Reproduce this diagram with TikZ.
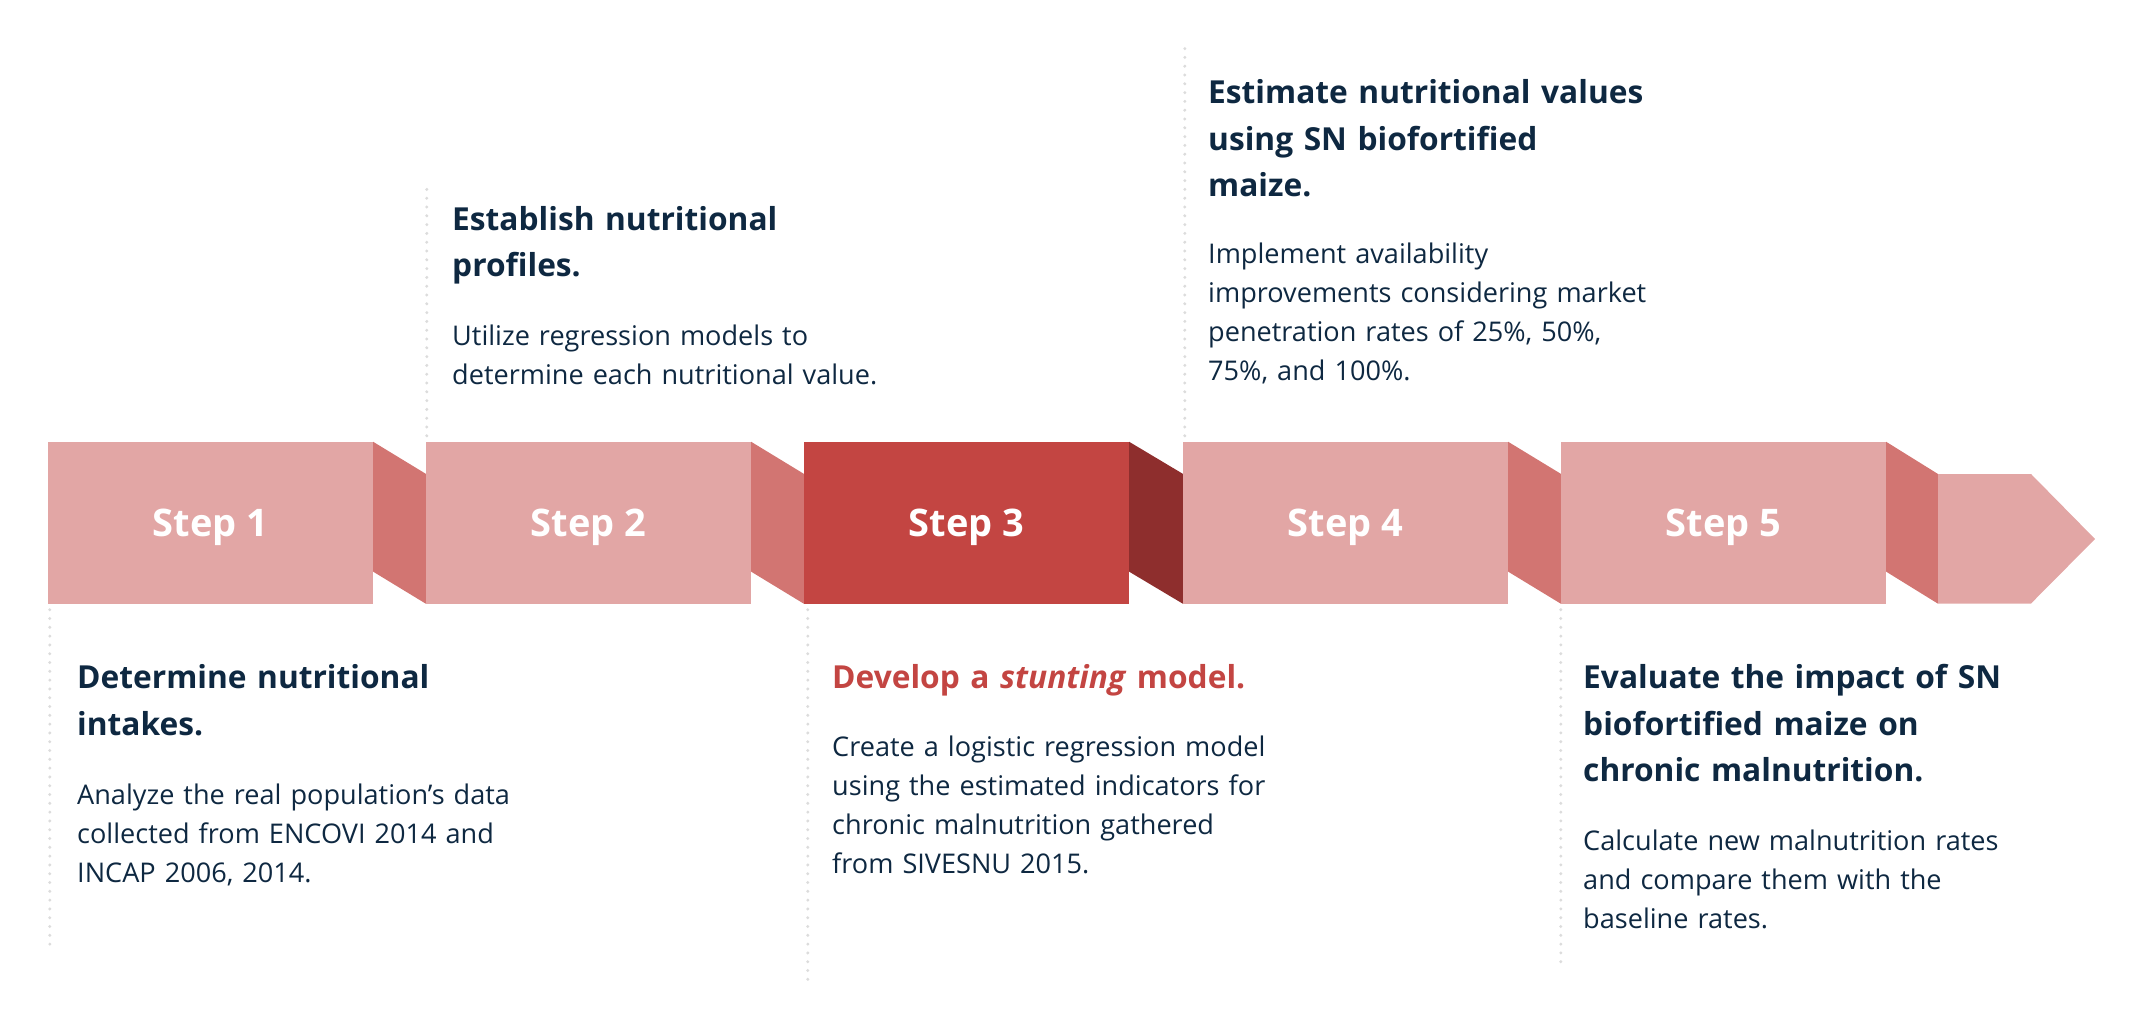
\documentclass[tikz,border=0pt]{standalone}
\usepackage{fontspec}
\setmainfont{Open Sans}
\definecolor{boxlight}{HTML}{E2A6A5}
\definecolor{foldlight}{HTML}{D27572}
\definecolor{boxred}{HTML}{C34542}
\definecolor{folddark}{HTML}{8E2E2D}
\definecolor{navy}{HTML}{0E2841}
\definecolor{guidegray}{HTML}{DCDCDC}

\begin{document}
\begin{tikzpicture}[x=1pt,y=-1pt,
    stepbox/.style={rectangle, minimum width=325pt, minimum height=161.5pt, inner sep=0pt,
      text height=27pt, text depth=0pt,
      fill=boxlight, text=white, font=\bfseries\fontsize{38}{46}\selectfont},
    fold/.style={fill=foldlight},
    guide/.style={draw=guidegray, line width=3.3pt, line cap=round, dash pattern=on 0pt off 8.8pt},
    head/.style={anchor=base west, align=left, text width=480pt, inner sep=0pt, text=navy,
      font=\bfseries\fontsize{31.7}{46.7}\selectfont},
    body/.style={anchor=base west, align=left, text width=480pt, inner sep=0pt, text=navy,
      font=\fontsize{27.1}{39}\selectfont}]
    \useasboundingbox (0,0) rectangle (2133,1029);

    % the five steps
    \node[stepbox] (s1) at (210.5,522.75) {Step 1};
    \node[stepbox] (s2) at (588.5,522.75) {Step 2};
    \node[stepbox, fill=boxred] (s3) at (966.5,522.75) {Step 3};
    \node[stepbox] (s4) at (1345.5,522.75) {Step 4};
    \node[stepbox] (s5) at (1723.5,522.75) {Step 5};
    \coordinate (tail) at (1938,474);

    % folds between the steps
    \fill[fold] (s1.north east) -- ([yshift=-32pt]s2.north west) -- (s2.south west) -- ([yshift=32pt]s1.south east) -- cycle;
    \fill[fold] (s2.north east) -- ([yshift=-32pt]s3.north west) -- (s3.south west) -- ([yshift=32pt]s2.south east) -- cycle;
    \fill[folddark] (s3.north east) -- ([yshift=-32pt]s4.north west) -- (s4.south west) -- ([yshift=32pt]s3.south east) -- cycle;
    \fill[fold] (s4.north east) -- ([yshift=-32pt]s5.north west) -- (s5.south west) -- ([yshift=32pt]s4.south east) -- cycle;
    \fill[fold] (s5.north east) -- (tail) -- (tail |- s5.south) -- ([yshift=32pt]s5.south east) -- cycle;
    \fill[boxlight] (tail) -- (2031,474) -- (2095,539) -- (2031,603.5) -- (tail |- s5.south) -- cycle;

    % dotted guides
    \draw[guide] ([shift={(2pt,-6pt)}]s1.south west) -- ++(0,342);
    \draw[guide] ([shift={(1pt,6pt)}]s2.north west) -- ++(0,-254);
    \draw[guide] ([shift={(4pt,-6pt)}]s3.south west) -- ++(0,378);
    \draw[guide] ([shift={(2pt,6pt)}]s4.north west) -- ++(0,-395);
    \draw[guide] ([shift={(0pt,-6pt)}]s5.south west) -- ++(0,352);

    % texts
    \node[head] (h1) at (77,688.3) {Determine nutritional\\intakes.};
    \node[body] (b1) at (77,804.3) {Analyze the real population's data\\collected from ENCOVI 2014 and\\INCAP 2006, 2014.};

    \node[head] (h2) at (452,230) {Establish nutritional\\profiles.};
    \node[body] (b2) at (452,345) {Utilize regression models to\\determine each nutritional value.};

    \node[head, text=boxred] (h3) at (832,688.3) {Develop a \textit{stunting} model.};
    \node[body] (b3) at (832,756.7) {Create a logistic regression model\\using the estimated indicators for\\chronic malnutrition gathered\\from SIVESNU 2015.};

    \node[head] (h4) at (1208,103.3) {Estimate nutritional values\\using SN biofortified\\maize.};
    \node[body] (b4) at (1208,263.3) {Implement availability\\improvements considering market\\penetration rates of 25\%, 50\%,\\75\%, and 100\%.};

    \node[head] (h5) at (1583,688.3) {Evaluate the impact of SN\\biofortified maize on\\chronic malnutrition.};
    \node[body] (b5) at (1583,850.7) {Calculate new malnutrition rates\\and compare them with the\\baseline rates.};
  \end{tikzpicture}
\end{document}
